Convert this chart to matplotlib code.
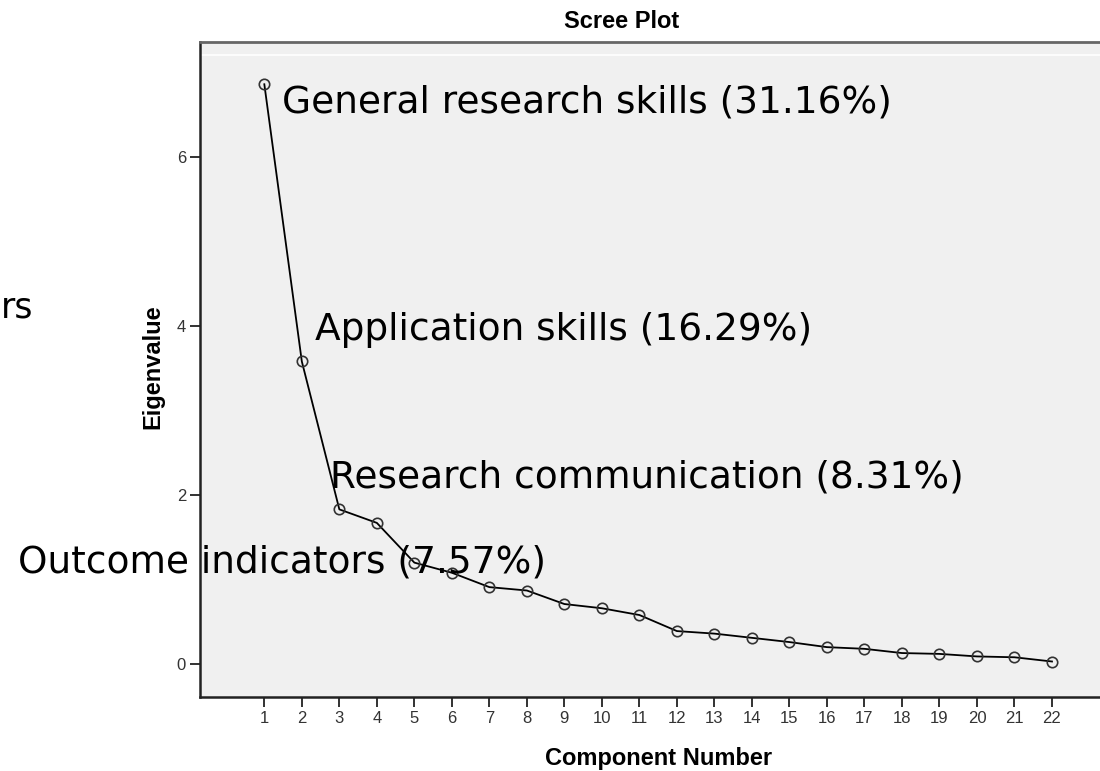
import matplotlib.pyplot as plt
import numpy as np

# Scree plot data (22 components)
components = list(range(1, 23))
eigenvalues = [6.86, 3.58, 1.83, 1.67, 1.20, 1.08, 0.91, 0.87, 0.71, 0.66, 0.58,
               0.39, 0.36, 0.31, 0.26, 0.20, 0.18, 0.13, 0.12, 0.09, 0.08, 0.03]

# factor labels and where they sit (component, eigenvalue baseline)
factor_labels = ["General research skills (31.16%)",
                 "Application skills (16.29%)",
                 "Research communication (8.31%)",
                 "Outcome indicators (7.57%)"]
label_x = [1.47, 2.35, 2.75, -5.57]
label_y = [6.53, 3.83, 2.09, 1.08]

W, H = 1100, 771
fig = plt.figure(figsize=(11, 7.71), dpi=100, facecolor='white')
ax = fig.add_axes([200 / W, 1 - 697 / H, 1 - 200 / W, (697 - 42) / H])
ax.set_facecolor('#f0f0f0')

ax.plot(components, eigenvalues, color='black', lw=1.3, marker='o', markersize=7.5,
        markerfacecolor='none', markeredgecolor='#333333', markeredgewidth=1.2, zorder=3)

ax.set_xlim(-0.715, 23.28)
ax.set_ylim(-0.39, 7.36)
ax.axhline(7.21, color='white', lw=1.2, zorder=1)

ax.set_xticks(components)
ax.set_yticks([0, 2, 4, 6])
ax.tick_params(direction='out', length=7, width=1.3, color='#222222', labelsize=12,
               labelcolor='#333333', pad=3)
for lab in ax.get_xticklabels() + ax.get_yticklabels():
    lab.set_family('Liberation Sans')

for side in ['left', 'bottom']:
    ax.spines[side].set_color('#222222')
    ax.spines[side].set_linewidth(1.8)
ax.spines['top'].set_color('#666666')
ax.spines['top'].set_linewidth(2)
ax.spines['right'].set_visible(False)

fig.text(622 / W, 1 - 21 / H, "Scree Plot", ha='center', va='center',
         fontsize=17, fontweight='bold', family='Liberation Sans')
fig.text(659 / W, 1 - 758 / H, "Component Number", ha='center', va='center',
         fontsize=17, fontweight='bold', family='Liberation Sans')
fig.text(153 / W, 1 - 367 / H, "Eigenvalue", ha='center', va='center', rotation=90,
         fontsize=17, fontweight='bold', family='Liberation Sans')

for txt, x, y in zip(factor_labels, label_x, label_y):
    ax.text(x, y, txt, ha='left', va='baseline', fontsize=27, family='DejaVu Sans',
            clip_on=False, zorder=4)

# stray label fragment at the left edge
fig.text(1 / W, 1 - 317 / H, "rs", ha='left', va='baseline', fontsize=25, family='DejaVu Sans')

plt.savefig("out.png", dpi=100, facecolor='white')
